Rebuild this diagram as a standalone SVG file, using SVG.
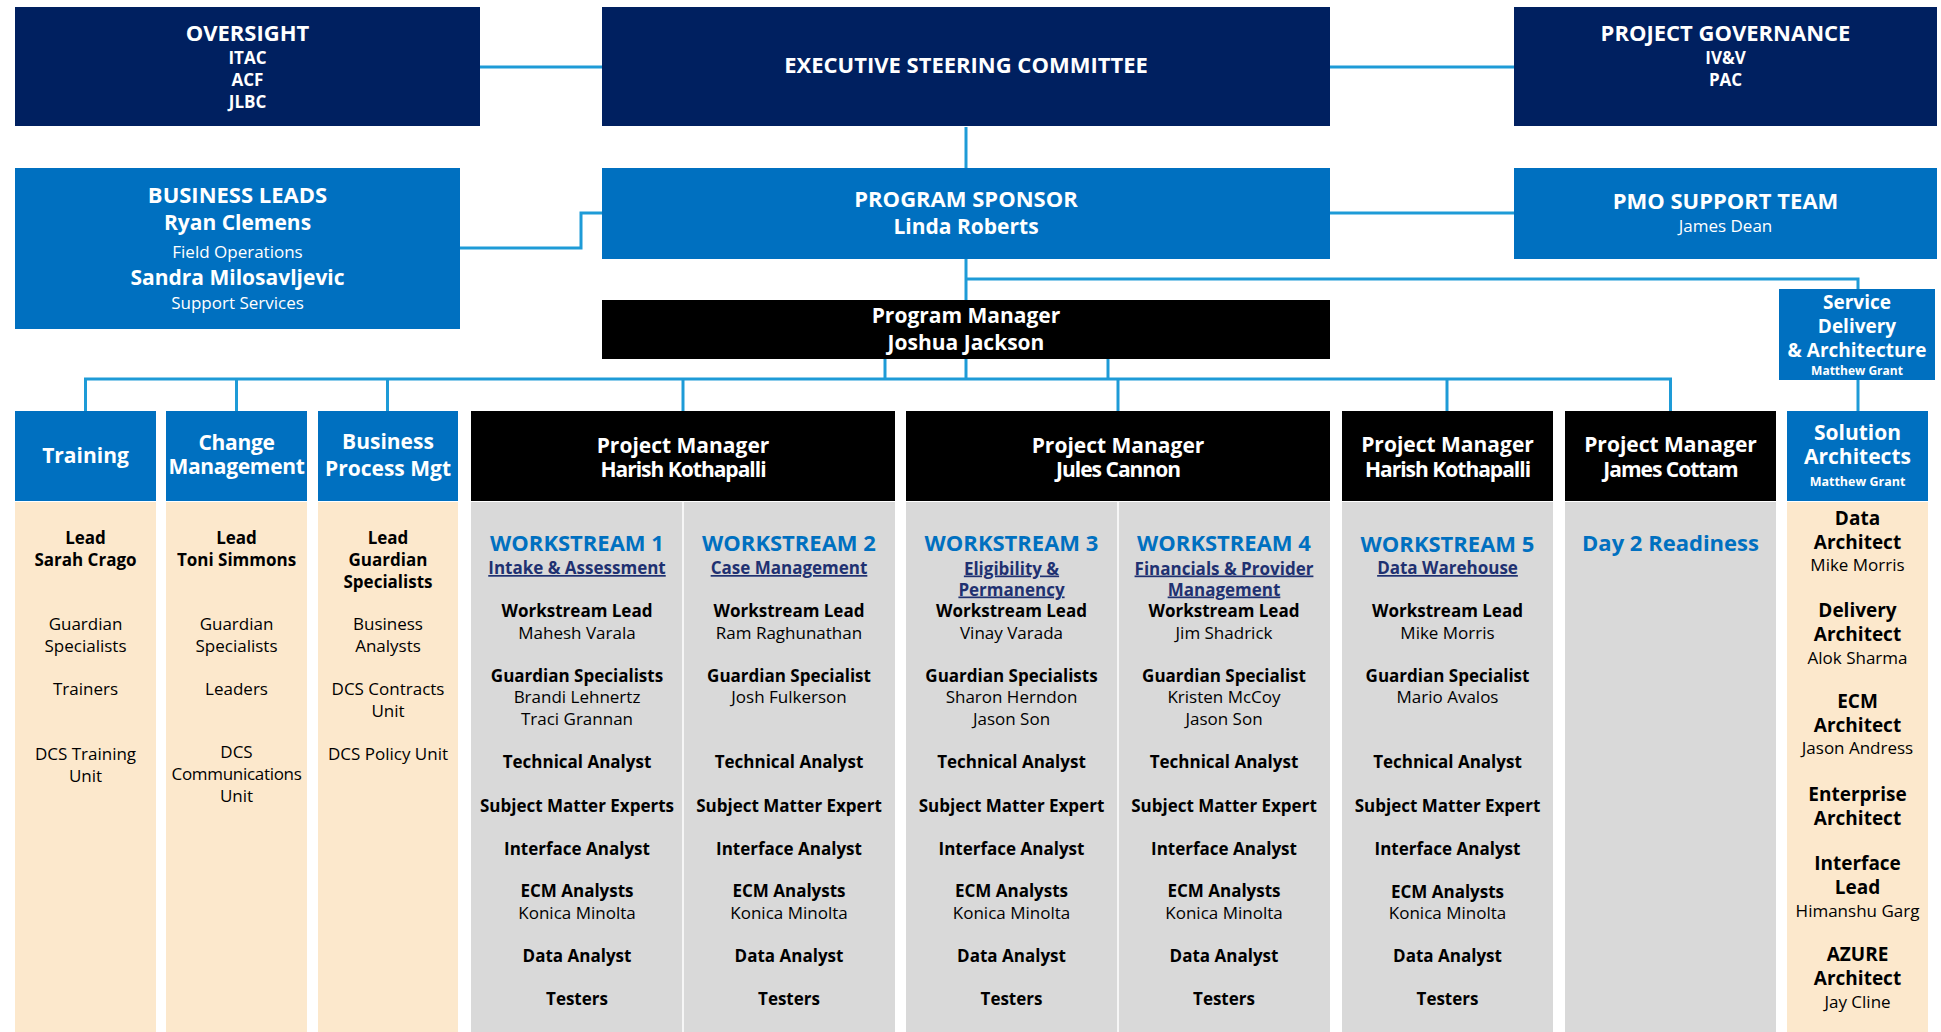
<svg xmlns="http://www.w3.org/2000/svg" width="1941" height="1032" viewBox="0 0 1941 1032">
<style>
text{font-family:"Open Sans","Noto Sans","DejaVu Sans",sans-serif;text-anchor:middle}
.navy{fill:#002060}
.blue{fill:#0070C0}
.blk{fill:#000000}
.gray{fill:#D9D9D9}
.tan{fill:#FCE8CC}
.w{fill:#FFFFFF}
.b{font-weight:700}
.h0{font-size:22px;font-weight:700;fill:#FFFFFF}
.h1{font-size:21px;font-weight:700;fill:#FFFFFF}
.h2{font-size:17px;font-weight:700;fill:#FFFFFF}
.hr{font-size:17px;font-weight:400;fill:#FFFFFF}
.nar{letter-spacing:-1px}
.ws{font-size:22px;font-weight:700;fill:#0070C0}
.sub{font-size:17px;font-weight:700;fill:#1F3171;text-decoration:underline}
.it{font-size:17px;font-weight:700;fill:#000000}
.nm{font-size:17px;font-weight:400;fill:#000000}
.sa{font-size:19px;font-weight:700;fill:#000000}
.div{stroke:#FFFFFF;stroke-width:1.5}
.conn{fill:none;stroke:#1E9BD7;stroke-width:3}
</style>

<g id="connectors" class="conn">
<path d="M480,67 H602"/>
<path d="M1330,67 H1514"/>
<path d="M966,127 V168"/>
<path d="M460,248 H581 V213 H602"/>
<path d="M1330,213 H1514"/>
<path d="M966,259 V300"/>
<path d="M966,279 H1858 V289"/>
<path d="M1858,380 V411"/>
<path d="M85.5,411 V379 H1670.5 V411"/>
<path d="M236.5,379 V411"/>
<path d="M387.5,379 V411"/>
<path d="M683,379 V411"/>
<path d="M1118,379 V411"/>
<path d="M1447,379 V411"/>
<path d="M885,359 V379"/>
<path d="M966,359 V379"/>
<path d="M1108,359 V379"/>
</g>

<g id="oversight">
<rect class="navy" x="15" y="7" width="465" height="119"/>
<text class="h0" x="247.5" y="40.5">OVERSIGHT</text>
<text class="h2" x="247.5" y="64">ITAC</text>
<text class="h2" x="247.5" y="86">ACF</text>
<text class="h2" x="247.5" y="107.5">JLBC</text>
</g>

<g id="executive-steering-committee">
<rect class="navy" x="602" y="7" width="728" height="119"/>
<text class="h0" x="966" y="72.5">EXECUTIVE STEERING COMMITTEE</text>
</g>

<g id="project-governance">
<rect class="navy" x="1514" y="7" width="423" height="119"/>
<text class="h0" x="1725.5" y="40.5">PROJECT GOVERNANCE</text>
<text class="h2" x="1725.5" y="64">IV&amp;V</text>
<text class="h2" x="1725.5" y="86">PAC</text>
</g>

<g id="business-leads">
<rect class="blue" x="15" y="168" width="445" height="161"/>
<text class="h0" x="237.5" y="203">BUSINESS LEADS</text>
<text class="h1" x="237.5" y="230">Ryan Clemens</text>
<text class="hr" x="237.5" y="257.5">Field Operations</text>
<text class="h1" x="237.5" y="285">Sandra Milosavljevic</text>
<text class="hr" x="237.5" y="308.5">Support Services</text>
</g>

<g id="program-sponsor">
<rect class="blue" x="602" y="168" width="728" height="91"/>
<text class="h0" x="966" y="207">PROGRAM SPONSOR</text>
<text class="h1" x="966" y="233.5">Linda Roberts</text>
</g>

<g id="pmo-support-team">
<rect class="blue" x="1514" y="168" width="423" height="91"/>
<text class="h0" x="1725.5" y="209">PMO SUPPORT TEAM</text>
<text class="hr" x="1725.5" y="231.5">James Dean</text>
</g>

<g id="program-manager">
<rect class="blk" x="602" y="300" width="728" height="59"/>
<text class="h1" x="966" y="322.5">Program Manager</text>
<text class="h1" x="966" y="350">Joshua Jackson</text>
</g>

<g id="service-delivery">
<rect class="blue" x="1779" y="289" width="156" height="91"/>
<text class="b w" font-size="19" x="1857" y="309">Service</text>
<text class="b w" font-size="19" x="1857" y="333">Delivery</text>
<text class="b w" font-size="19" x="1857" y="357">&amp; Architecture</text>
<text class="b w" font-size="12" x="1857" y="374.5">Matthew Grant</text>
</g>

<g id="training">
<rect class="blue" x="15" y="411" width="141" height="90"/>
<rect class="tan" x="15" y="502" width="141" height="530"/>
<text class="h1" x="85.5" y="463">Training</text>
<text class="it" x="85.5" y="543.5">Lead</text>
<text class="it" x="85.5" y="565.5">Sarah Crago</text>
<text class="nm" x="85.5" y="630">Guardian</text>
<text class="nm" x="85.5" y="652">Specialists</text>
<text class="nm" x="85.5" y="695">Trainers</text>
<text class="nm" x="85.5" y="760">DCS Training</text>
<text class="nm" x="85.5" y="781.5">Unit</text>
</g>

<g id="change-management">
<rect class="blue" x="166" y="411" width="141" height="90"/>
<rect class="tan" x="166" y="502" width="141" height="530"/>
<text class="h1" font-size="17.5" letter-spacing="-0.3" x="236.5" y="449.5">Change</text>
<text class="h1" font-size="17.5" letter-spacing="-0.3" x="236.5" y="474">Management</text>
<text class="it" x="236.5" y="543.5">Lead</text>
<text class="it" x="236.5" y="565.5">Toni Simmons</text>
<text class="nm" x="236.5" y="630">Guardian</text>
<text class="nm" x="236.5" y="652">Specialists</text>
<text class="nm" x="236.5" y="695">Leaders</text>
<text class="nm" x="236.5" y="758">DCS</text>
<text class="nm" font-size="12" letter-spacing="-0.3" x="236.5" y="780">Communications</text>
<text class="nm" x="236.5" y="802">Unit</text>
</g>

<g id="business-process-mgt">
<rect class="blue" x="318" y="411" width="140" height="90"/>
<rect class="tan" x="318" y="502" width="140" height="530"/>
<text class="h1" x="388" y="449">Business</text>
<text class="h1" x="388" y="475.5">Process Mgt</text>
<text class="it" x="388" y="543.5">Lead</text>
<text class="it" x="388" y="565.5">Guardian</text>
<text class="it" x="388" y="587.5">Specialists</text>
<text class="nm" x="388" y="630">Business</text>
<text class="nm" x="388" y="652">Analysts</text>
<text class="nm" x="388" y="695">DCS Contracts</text>
<text class="nm" x="388" y="716.5">Unit</text>
<text class="nm" x="388" y="760">DCS Policy Unit</text>
</g>

<g id="pm-harish-ws1-ws2">
<rect class="blk" x="471" y="411" width="424" height="90"/>
<rect class="gray" x="471" y="502" width="424" height="530"/>
<line class="div" x1="683" y1="502" x2="683" y2="1032"/>
<text class="h1" x="683" y="452.5">Project Manager</text>
<text class="h1 nar" x="683" y="477">Harish Kothapalli</text>
<g id="workstream-1">
<text class="ws" x="577" y="550.5">WORKSTREAM 1</text>
<text class="sub" x="577" y="574">Intake &amp; Assessment</text>
<text class="it" x="577" y="617">Workstream Lead</text>
<text class="nm" x="577" y="638.5">Mahesh Varala</text>
<text class="it" x="577" y="682">Guardian Specialists</text>
<text class="nm" x="577" y="703">Brandi Lehnertz</text>
<text class="nm" x="577" y="724.5">Traci Grannan</text>
<text class="it" x="577" y="768">Technical Analyst</text>
<text class="it" x="577" y="811.5">Subject Matter Experts</text>
<text class="it" x="577" y="854.5">Interface Analyst</text>
<text class="it" x="577" y="897">ECM Analysts</text>
<text class="nm" x="577" y="919">Konica Minolta</text>
<text class="it" x="577" y="962">Data Analyst</text>
<text class="it" x="577" y="1005">Testers</text>
</g>
<g id="workstream-2">
<text class="ws" x="789" y="550.5">WORKSTREAM 2</text>
<text class="sub" x="789" y="574">Case Management</text>
<text class="it" x="789" y="617">Workstream Lead</text>
<text class="nm" x="789" y="638.5">Ram Raghunathan</text>
<text class="it" x="789" y="682">Guardian Specialist</text>
<text class="nm" x="789" y="703">Josh Fulkerson</text>
<text class="it" x="789" y="768">Technical Analyst</text>
<text class="it" x="789" y="811.5">Subject Matter Expert</text>
<text class="it" x="789" y="854.5">Interface Analyst</text>
<text class="it" x="789" y="897">ECM Analysts</text>
<text class="nm" x="789" y="919">Konica Minolta</text>
<text class="it" x="789" y="962">Data Analyst</text>
<text class="it" x="789" y="1005">Testers</text>
</g>
</g>

<g id="pm-jules-ws3-ws4">
<rect class="blk" x="906" y="411" width="424" height="90"/>
<rect class="gray" x="906" y="502" width="424" height="530"/>
<line class="div" x1="1118" y1="502" x2="1118" y2="1032"/>
<text class="h1" x="1118" y="452.5">Project Manager</text>
<text class="h1 nar" x="1118" y="477">Jules Cannon</text>
<g id="workstream-3">
<text class="ws" x="1011.5" y="550.5">WORKSTREAM 3</text>
<text class="sub" x="1011.5" y="574.5">Eligibility &amp;</text>
<text class="sub" x="1011.5" y="595.5">Permanency</text>
<text class="it" x="1011.5" y="617">Workstream Lead</text>
<text class="nm" x="1011.5" y="638.5">Vinay Varada</text>
<text class="it" x="1011.5" y="682">Guardian Specialists</text>
<text class="nm" x="1011.5" y="703">Sharon Herndon</text>
<text class="nm" x="1011.5" y="724.5">Jason Son</text>
<text class="it" x="1011.5" y="768">Technical Analyst</text>
<text class="it" x="1011.5" y="811.5">Subject Matter Expert</text>
<text class="it" x="1011.5" y="854.5">Interface Analyst</text>
<text class="it" x="1011.5" y="897">ECM Analysts</text>
<text class="nm" x="1011.5" y="919">Konica Minolta</text>
<text class="it" x="1011.5" y="962">Data Analyst</text>
<text class="it" x="1011.5" y="1005">Testers</text>
</g>
<g id="workstream-4">
<text class="ws" x="1224" y="550.5">WORKSTREAM 4</text>
<text class="sub" x="1224" y="574.5">Financials &amp; Provider</text>
<text class="sub" x="1224" y="595.5">Management</text>
<text class="it" x="1224" y="617">Workstream Lead</text>
<text class="nm" x="1224" y="638.5">Jim Shadrick</text>
<text class="it" x="1224" y="682">Guardian Specialist</text>
<text class="nm" x="1224" y="703">Kristen McCoy</text>
<text class="nm" x="1224" y="724.5">Jason Son</text>
<text class="it" x="1224" y="768">Technical Analyst</text>
<text class="it" x="1224" y="811.5">Subject Matter Expert</text>
<text class="it" x="1224" y="854.5">Interface Analyst</text>
<text class="it" x="1224" y="897">ECM Analysts</text>
<text class="nm" x="1224" y="919">Konica Minolta</text>
<text class="it" x="1224" y="962">Data Analyst</text>
<text class="it" x="1224" y="1005">Testers</text>
</g>
</g>

<g id="pm-harish-ws5">
<rect class="blk" x="1342" y="411" width="211" height="90"/>
<rect class="gray" x="1342" y="502" width="211" height="530"/>
<text class="h1" x="1447.5" y="452">Project Manager</text>
<text class="h1 nar" x="1447.5" y="476.5">Harish Kothapalli</text>
<text class="ws" x="1447.5" y="551.5">WORKSTREAM 5</text>
<text class="sub" x="1447.5" y="574">Data Warehouse</text>
<text class="it" x="1447.5" y="617">Workstream Lead</text>
<text class="nm" x="1447.5" y="639">Mike Morris</text>
<text class="it" x="1447.5" y="682">Guardian Specialist</text>
<text class="nm" x="1447.5" y="703">Mario Avalos</text>
<text class="it" x="1447.5" y="768">Technical Analyst</text>
<text class="it" x="1447.5" y="811.5">Subject Matter Expert</text>
<text class="it" x="1447.5" y="854.5">Interface Analyst</text>
<text class="it" x="1447.5" y="897.5">ECM Analysts</text>
<text class="nm" x="1447.5" y="919">Konica Minolta</text>
<text class="it" x="1447.5" y="962">Data Analyst</text>
<text class="it" x="1447.5" y="1005">Testers</text>
</g>

<g id="pm-james-cottam">
<rect class="blk" x="1565" y="411" width="211" height="90"/>
<rect class="gray" x="1565" y="502" width="211" height="530"/>
<text class="h1" x="1670.5" y="452">Project Manager</text>
<text class="h1 nar" x="1670.5" y="476.5">James Cottam</text>
<text class="ws" x="1670.5" y="551">Day 2 Readiness</text>
</g>

<g id="solution-architects">
<rect class="blue" x="1787" y="411" width="141" height="90"/>
<rect class="tan" x="1787" y="502" width="141" height="530"/>
<text class="h1" font-size="17.5" x="1857.5" y="439.5">Solution</text>
<text class="h1" font-size="17.5" x="1857.5" y="464">Architects</text>
<text class="b w" font-size="12.5" x="1857.5" y="486">Matthew Grant</text>
<text class="sa" x="1857.5" y="524.5">Data</text>
<text class="sa" x="1857.5" y="548.5">Architect</text>
<text class="nm" x="1857.5" y="571">Mike Morris</text>
<text class="sa" x="1857.5" y="616.5">Delivery</text>
<text class="sa" x="1857.5" y="640.5">Architect</text>
<text class="nm" x="1857.5" y="663.5">Alok Sharma</text>
<text class="sa" x="1857.5" y="708">ECM</text>
<text class="sa" x="1857.5" y="732">Architect</text>
<text class="nm" x="1857.5" y="754">Jason Andress</text>
<text class="sa" x="1857.5" y="800.5">Enterprise</text>
<text class="sa" x="1857.5" y="824.5">Architect</text>
<text class="sa" x="1857.5" y="870">Interface</text>
<text class="sa" x="1857.5" y="894">Lead</text>
<text class="nm" x="1857.5" y="917">Himanshu Garg</text>
<text class="sa" x="1857.5" y="961">AZURE</text>
<text class="sa" x="1857.5" y="985">Architect</text>
<text class="nm" x="1857.5" y="1008">Jay Cline</text>
</g>
</svg>
